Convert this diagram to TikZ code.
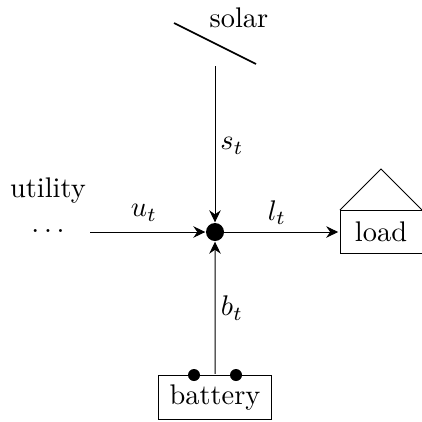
\documentclass[tikz,border=0pt]{standalone}
\usetikzlibrary{arrows.meta}
\tikzset{
  flow/.style={-{Stealth[length=12pt,width=11.5pt,inset=4pt]},line width=1pt,shorten >=0.5pt},
  dot/.style={circle,fill=black,inner sep=0pt},
  lbl/.style={scale=2.84,transform shape,inner sep=0pt},
  unitbox/.style={draw,line width=0.9pt,inner sep=0pt}
}
\begin{document}
\begin{tikzpicture}[x=1pt,y=-1pt]
  \useasboundingbox (0,0) rectangle (422,421);
  \coordinate (S) at (215,66);
  \coordinate (U) at (90,232);
  \coordinate (P1) at (174,23);
  \coordinate (P2) at (256,64);
  \coordinate (H1) at (340,210);
  \coordinate (H2) at (381,169);
  \coordinate (H3) at (422,210);

  \node[dot,minimum size=18pt] (hub) at (215,232) {};
  \node[unitbox,lbl,minimum width=28.9pt,minimum height=15.1pt] (load) at (381,232) {load};
  \node[unitbox,lbl,minimum width=39.8pt,minimum height=15.8pt] (battery) at (215,397.5) {battery};
  \node[dot,minimum size=12pt] (plus) at (194,375) {};
  \node[dot,minimum size=12pt] (minus) at (236,375) {};

  \draw[line width=1.6pt] (P1) -- (P2);
  \draw[line width=0.9pt] (H1) -- (H2) -- (H3);
  \draw[flow] (S) -- (hub);
  \draw[flow] (U) -- (hub);
  \draw[flow] (hub) -- (load);
  \draw[flow] (battery) -- (hub);

  \node[lbl] (solar) at (239,18) {solar};
  \node[lbl] (utility) at (48,191) {utility};
  \node[lbl] (dots) at (48,231) {$\dots$};
  \node[lbl] (st) at (232,146) {$s_t$};
  \node[lbl] (ut) at (144,213) {$u_t$};
  \node[lbl] (lt) at (277,213) {$l_t$};
  \node[lbl] (bt) at (232,308) {$b_t$};
\end{tikzpicture}
\end{document}
